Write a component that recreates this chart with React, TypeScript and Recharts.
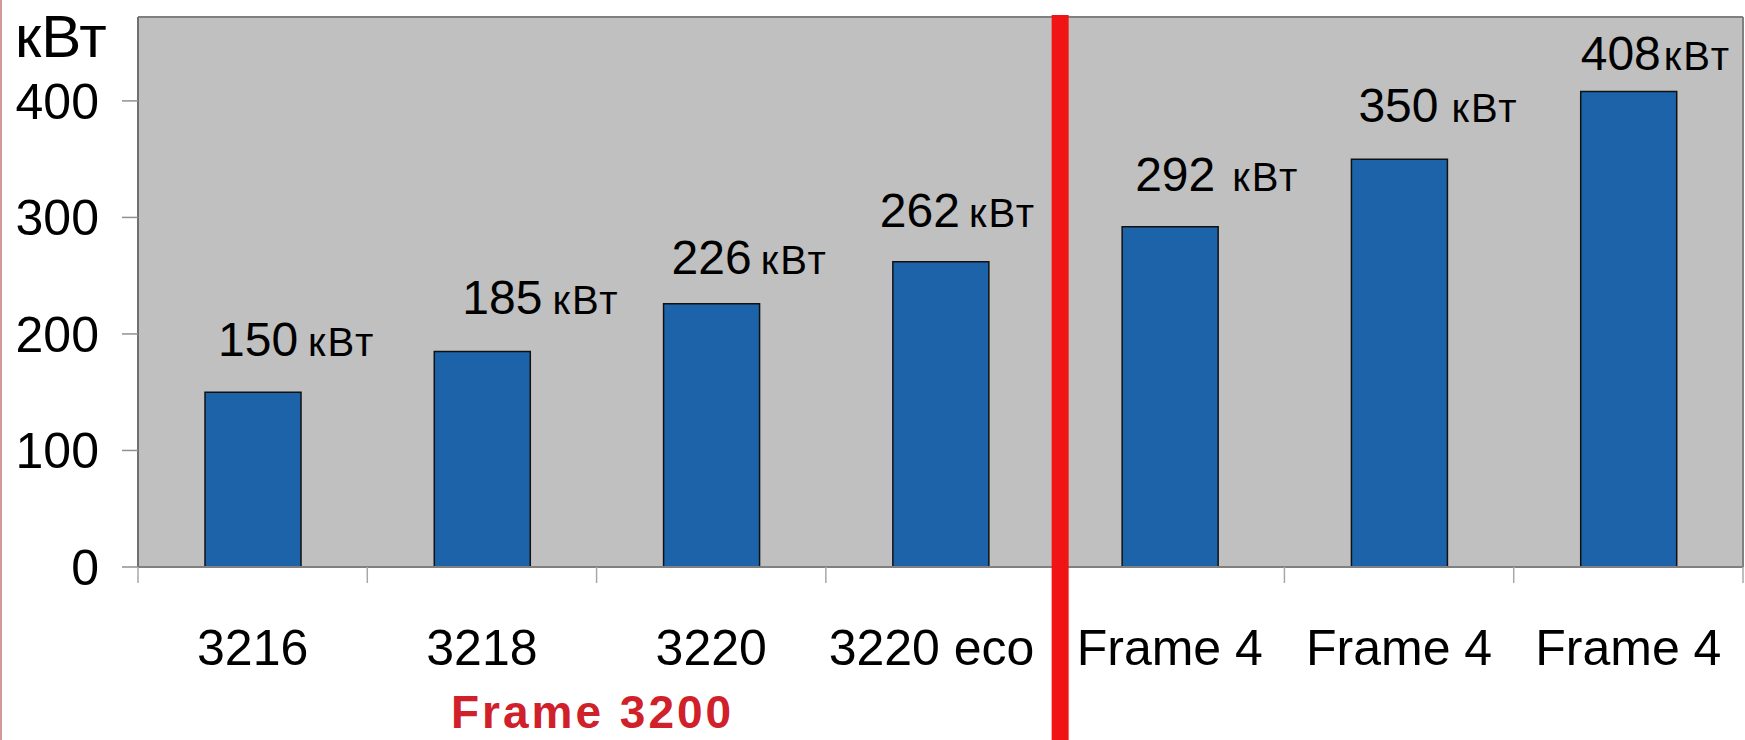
import React from 'react';
import { BarChart, Bar, XAxis, YAxis, CartesianGrid } from 'recharts';

// ---- data ----
const categories = ['3216', '3218', '3220', '3220 eco', 'Frame 4', 'Frame 4', 'Frame 4'];
const powerKw = [150, 185, 226, 262, 292, 350, 408];
const yTicks = [0, 100, 200, 300, 400];
const unitLabel = 'кВт';
const groupLabel = 'Frame 3200';

// ---- layout / style tweaks ----
const CHART_W = 1745;
const CHART_H = 740;
const TOP = 17;
const Y_AXIS_W = 138;
const X_AXIS_H = 173;
const AXIS_Y = CHART_H - X_AXIS_H;
const FONT = '"Liberation Sans", Arial, Helvetica, sans-serif';
const LABEL_DX = [13, 28, 8, -13, 13, 7, 0];
const LABEL_DY = [36, 37, 30, 35, 36, 37, 22];
const LABEL_GAP = [10, 10, 9, 9, 17, 13, 3];
const TICK_DX = [0, 0, 0, -9, 0, 0, 0];

const data = categories.map((c, i) => ({ key: `c${i}`, name: c, value: powerKw[i] }));

const XTick = (props: any) => {
  const { x, index, payload } = props;
  const i = payload && typeof payload.index === 'number' ? payload.index : index;
  const half = payload && payload.offset ? payload.offset : (CHART_W - 2 - Y_AXIS_W) / 14;
  const cx = Number(x);
  return (
    <g>
      <line x1={cx - half} x2={cx - half} y1={AXIS_Y} y2={AXIS_Y + 16} stroke="#a8a8a8" strokeWidth={1.5} />
      {i === categories.length - 1 && (
        <line x1={cx + half} x2={cx + half} y1={AXIS_Y} y2={AXIS_Y + 16} stroke="#a8a8a8" strokeWidth={1.5} />
      )}
      <text x={cx + (TICK_DX[i] || 0)} y={AXIS_Y + 98} textAnchor="middle" fontSize={50} fontFamily={FONT} fill="#000">
        {categories[i]}
      </text>
      {i === 1 && (
        <text x={cx + half - 4} y={AXIS_Y + 161} textAnchor="middle" fontSize={46} fontWeight="bold"
          letterSpacing={3} fontFamily={FONT} fill="#d0202a">
          {groupLabel}
        </text>
      )}
      {i === 4 && (
        <rect x={cx - half + 5 - 8.5} y={TOP - 2} width={17} height={CHART_H - TOP + 2} fill="#f01414" />
      )}
    </g>
  );
};

const renderBarLabel = (p: any) => {
  const x = Number(p.x);
  const y = Number(p.y);
  const i = p.index;
  return (
    <text x={x + LABEL_DX[i]} y={y - LABEL_DY[i]} fontFamily={FONT} fill="#000">
      <tspan fontSize={48}>{p.value}</tspan>
      <tspan fontSize={40} dx={LABEL_GAP[i]} letterSpacing={2}>{unitLabel}</tspan>
    </text>
  );
};

const YTitle = (p: any) => {
  const vb = p.viewBox || { x: 0, y: TOP };
  return (
    <text x={vb.x + 15} y={vb.y + 40} fontSize={60} fontFamily={FONT} fill="#000">
      {unitLabel}
    </text>
  );
};

export default function App() {
  return (
    <div style={{ position: 'absolute', left: 0, top: 0, width: CHART_W, height: CHART_H, background: '#fff' }}>
      <BarChart
        width={CHART_W}
        height={CHART_H}
        data={data}
        margin={{ top: TOP, right: 2, bottom: 0, left: 0 }}
      >
        <CartesianGrid
          fill="#c0c0c0"
          fillOpacity={1}
          stroke="#808080"
          strokeWidth={2}
          horizontalCoordinatesGenerator={(a: any) => [a.offset.top]}
          verticalCoordinatesGenerator={(a: any) => [a.offset.left + a.offset.width]}
        />
        <XAxis
          dataKey="key"
          type="category"
          height={X_AXIS_H}
          interval={0}
          tickLine={false}
          tickSize={16}
          axisLine={{ stroke: '#808080', strokeWidth: 2 }}
          tick={<XTick />}
        />
        <YAxis
          type="number"
          domain={[0, 472]}
          ticks={yTicks}
          width={Y_AXIS_W}
          tickSize={16}
          tickMargin={23}
          axisLine={{ stroke: '#707070', strokeWidth: 2 }}
          tickLine={{ stroke: '#909090', strokeWidth: 1.5 }}
          tick={{ fontSize: 50, fill: '#000', fontFamily: FONT }}
          label={<YTitle />}
        />
        <Bar
          dataKey="value"
          fill="#1d63aa"
          stroke="#111"
          strokeWidth={1.5}
          barSize={96}
          isAnimationActive={false}
          label={renderBarLabel}
        />
      </BarChart>
      <div style={{ position: 'absolute', left: 0, top: 0, width: 2, height: CHART_H, background: '#d49a9a' }} />
    </div>
  );
}
